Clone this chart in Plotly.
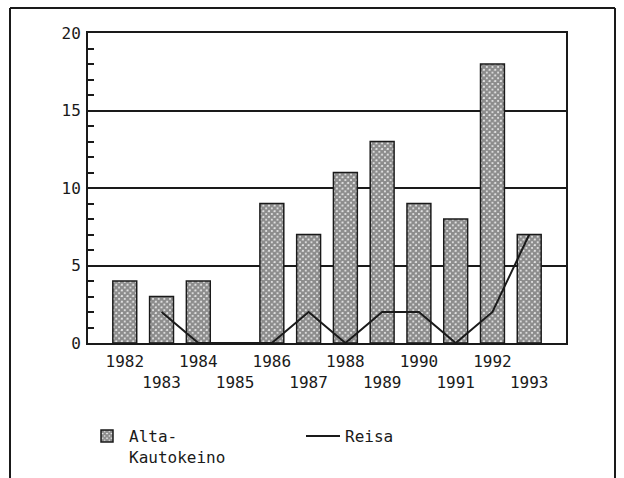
import plotly.graph_objects as go

years = [1982, 1983, 1984, 1985, 1986, 1987, 1988, 1989, 1990, 1991, 1992, 1993]
alta_kautokeino = [4, 3, 4, 0, 9, 7, 11, 13, 9, 8, 18, 7]
reisa = [None, 2, 0, 0, 0, 2, 0, 2, 2, 0, 2, 7]
tick_labels = [str(y) if y % 2 == 0 else "<br>" + str(y) for y in years]
y_ticks = [0, 5, 10, 15, 20]

FONT = "DejaVu Sans Mono"
INK = "#1a1a1a"

fig = go.Figure()
fig.add_trace(go.Bar(
    x=years, y=alta_kautokeino, name="Alta-<br>Kautokeino",
    width=0.65,
    marker=dict(color="white", line=dict(color=INK, width=1.5),
                pattern=dict(shape="x", fgcolor=INK, bgcolor="white", size=4, solidity=0.85)),
))
fig.add_trace(go.Scatter(
    x=years, y=reisa, name="Reisa", mode="lines",
    line=dict(color=INK, width=2), connectgaps=False,
))

W, H = 624, 478
L, R, T, B = 88, 58, 33, 135
pw, ph = W - L - R, H - T - B

def px(x):
    return (x - L) / pw

def py(y):
    return (H - B - y) / ph

fig.update_layout(
    width=W, height=H,
    margin=dict(l=L, r=R, t=T, b=B, autoexpand=False),
    paper_bgcolor="white", plot_bgcolor="white",
    font=dict(family=FONT, size=16, color=INK),
    xaxis=dict(
        range=[1981, 1994], tickvals=years, ticktext=tick_labels,
        showgrid=False, zeroline=False, showline=True, linecolor=INK, linewidth=2,
        mirror=True, ticks="", ticklabelstandoff=3, tickangle=0,
        tickfont=dict(family=FONT, size=16, color=INK),
    ),
    yaxis=dict(
        range=[0, 20], tickvals=y_ticks,
        showgrid=True, gridcolor=INK, gridwidth=1.5, zeroline=False,
        showline=True, linecolor=INK, linewidth=2, mirror=True,
        ticks="inside", ticklen=6, tickcolor=INK, tickwidth=1.5,
        minor=dict(dtick=1, ticks="inside", ticklen=6, tickcolor=INK, tickwidth=1.5, showgrid=False),
        tickfont=dict(family=FONT, size=16, color=INK),
        ticklabelstandoff=2,
    ),
    legend=dict(
        orientation="h", x=px(85), y=py(419), xanchor="left", yanchor="top",
        entrywidth=167, entrywidthmode="pixels", valign="top",
        font=dict(family=FONT, size=16, color=INK), traceorder="normal",
        itemwidth=34,
    ),
    showlegend=True,
    shapes=[
        dict(type="line", xref="paper", yref="paper", x0=px(10), x1=px(10), y0=py(8), y1=py(490),
             line=dict(color=INK, width=2)),
        dict(type="line", xref="paper", yref="paper", x0=px(10), x1=px(615), y0=py(8), y1=py(8),
             line=dict(color=INK, width=2)),
        dict(type="line", xref="paper", yref="paper", x0=px(615), x1=px(615), y0=py(8), y1=py(490),
             line=dict(color=INK, width=2)),
    ],
)

fig.write_html("out.html", config={"displayModeBar": False},
               post_script="document.body.style.margin='0px';document.body.style.overflow='hidden';")
